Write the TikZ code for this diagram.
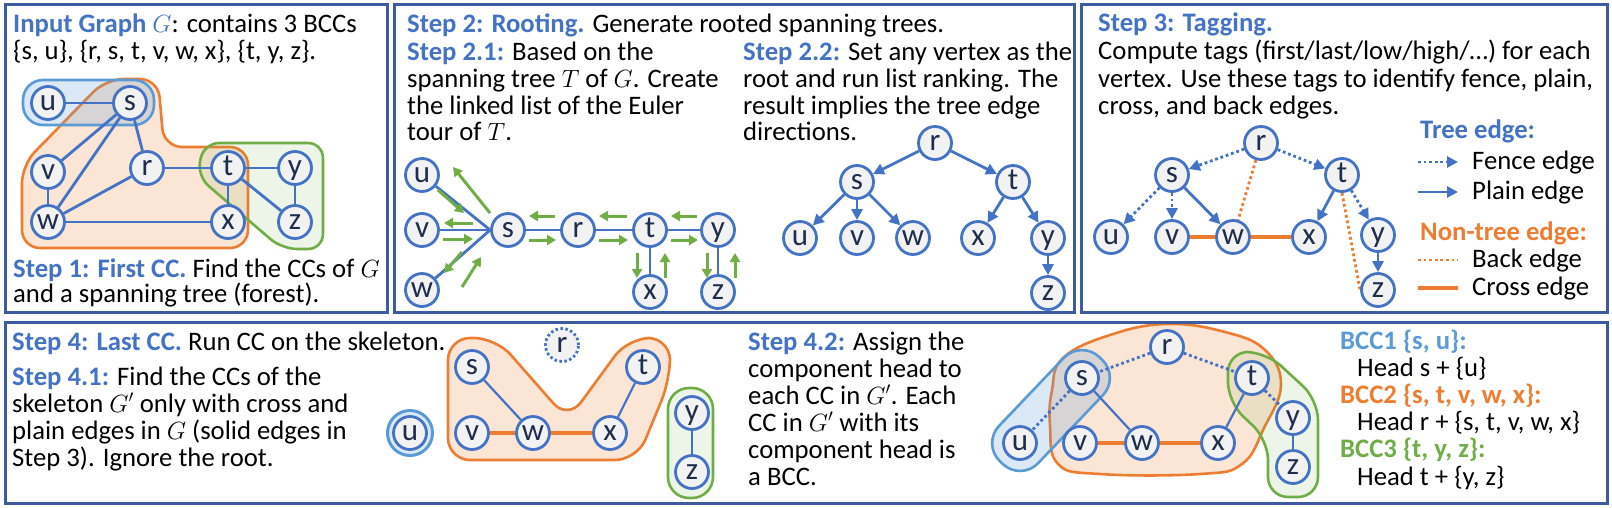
\documentclass[tikz,border=0pt]{standalone}
\usepackage{fontspec}
\setmainfont{Carlito}
\usetikzlibrary{arrows.meta,calc}
\definecolor{hblue}{HTML}{4472C4}
\definecolor{pborder}{HTML}{3D5B9F}
\definecolor{nfill}{HTML}{F2F2F2}
\definecolor{ntext}{HTML}{1F2D4D}
\definecolor{orng}{HTML}{ED7D31}
\definecolor{grn}{HTML}{70AD47}
\definecolor{lblue}{HTML}{5B9BD5}
\pgfdeclarelayer{bg}\pgfdeclarelayer{edges}
\pgfsetlayers{bg,edges,main}
\newcommand\hb[1]{\textcolor{hblue}{\bfseries #1}}
\begin{document}
\begin{tikzpicture}[x=1pt,y=-1pt,
  vnode/.style={circle, draw=hblue, line width=2.8pt, fill=nfill, minimum size=33pt, inner sep=0pt, text=ntext, font=\fontsize{31}{31}\selectfont, text height=14pt, text depth=0pt},
  plainline/.style={draw=hblue, line width=2.8pt},
  thinedge/.style={draw=hblue, line width=2.2pt},
  plainedge/.style={plainline, -{Triangle[length=11pt,width=11pt]}},
  fenceedge/.style={plainedge, dash pattern=on 2.8pt off 2.8pt},
  fenceline/.style={plainline, dash pattern=on 2.8pt off 2.8pt},
  backedge/.style={draw=orng, line width=2.8pt, dash pattern=on 2.8pt off 2.8pt},
  crossedge/.style={draw=orng, line width=3.6pt},
  touredge/.style={draw=grn, line width=3pt, -{Triangle[length=9pt,width=10pt]}},
  txtline/.style={anchor=base west, inner sep=0pt, font=\fontsize{26.7}{27}\selectfont},
  panelbox/.style={draw=pborder, line width=3pt},
  ohull/.style={draw=orng, line width=2.6pt, fill=orng, fill opacity=0.2},
  ghull/.style={draw=grn, line width=2.6pt, fill=grn, fill opacity=0.12},
  bhull/.style={draw=lblue, line width=2.6pt, fill=lblue, fill opacity=0.22},
]
\useasboundingbox (0,0) rectangle (1612,507);
\begin{pgfonlayer}{bg}
\fill[white] (0,0) rectangle (1612,507);
\end{pgfonlayer}

% panels
\draw[panelbox] (5,4) rectangle (387,312);
\draw[panelbox] (394,4) rectangle (1074,312);
\draw[panelbox] (1081,4) rectangle (1607,312);
\draw[panelbox] (5,322) rectangle (1607,503);

% ---------------- Panel 1 ----------------
\node[txtline] (p1a) at (13,32) {\hb{Input Graph $G$}: contains 3 BCCs};
\node[txtline] (p1b) at (13,59) {\{s, u\}, \{r, s, t, v, w, x\}, \{t, y, z\}.};
\node[txtline] (p1c) at (13,277) {\hb{Step 1: First CC.} Find the CCs of $G$};
\node[txtline] (p1d) at (13,302) {and a spanning tree (forest).};

\node[vnode] (a-u) at (48,103) {u};
\node[vnode] (a-s) at (130,103) {s};
\node[vnode] (a-v) at (48,172) {v};
\node[vnode] (a-r) at (147,168) {r};
\node[vnode] (a-t) at (228,168) {t};
\node[vnode] (a-y) at (295,168) {y};
\node[vnode] (a-w) at (48,222) {w};
\node[vnode] (a-x) at (228,222) {x};
\node[vnode] (a-z) at (295,222) {z};
\begin{pgfonlayer}{bg}
\draw[ohull, rounded corners=18pt] (22,248) -- (22,165) -- (106,79) -- (158,79) -- (164,147) -- (248,147) -- (248,248) -- cycle;
\draw[ghull, rounded corners=15pt] (204,143) -- (323,143) -- (323,249) -- (282,249) -- (197,176) -- cycle;
\draw[bhull, rounded corners=20pt] (23,80) rectangle (154,125);
\end{pgfonlayer}
\begin{pgfonlayer}{edges}
\draw[plainline] (a-u) -- (a-s);
\draw[plainline] (a-s) -- (a-v);
\draw[plainline] (a-s) -- (a-w);
\draw[plainline] (a-s) -- (a-r);
\draw[plainline] (a-v) -- (a-w);
\draw[plainline] (a-w) -- (a-r);
\draw[plainline] (a-w) -- (a-x);
\draw[plainline] (a-r) -- (a-t);
\draw[plainline] (a-t) -- (a-y);
\draw[plainline] (a-t) -- (a-x);
\draw[plainline] (a-t) -- (a-z);
\draw[plainline] (a-y) -- (a-z);
\end{pgfonlayer}

% ---------------- Panel 2 ----------------
\node[txtline] (p2a) at (407,32) {\hb{Step 2: Rooting.} Generate rooted spanning trees.};
\node[txtline] (p2b) at (407,60) {\hb{Step 2.1:} Based on the};
\node[txtline] (p2c) at (407,87) {spanning tree $T$ of $G$. Create};
\node[txtline] (p2d) at (407,114) {the linked list of the Euler};
\node[txtline] (p2e) at (407,140) {tour of $T$.};
\node[txtline] (p2f) at (743,60) {\hb{Step 2.2:} Set any vertex as the};
\node[txtline] (p2g) at (743,87) {root and run list ranking. The};
\node[txtline] (p2h) at (743,114) {result implies the tree edge};
\node[txtline] (p2i) at (743,140) {directions.};

% 2.1
\node[vnode] (b-u) at (422,175) {u};
\node[vnode] (b-v) at (422,230) {v};
\node[vnode] (b-w) at (422,290) {w};
\node[vnode] (b-s) at (508,230) {s};
\node[vnode] (b-r) at (578,230) {r};
\node[vnode] (b-t) at (650,230) {t};
\node[vnode] (b-y) at (718,230) {y};
\node[vnode] (b-x) at (650,292) {x};
\node[vnode] (b-z) at (718,292) {z};
\begin{pgfonlayer}{edges}
\draw[plainline] (b-u) -- (b-s.west);
\draw[plainline] (b-v) -- (b-s.west);
\draw[plainline] (b-w) -- (b-s.west);
\draw[plainline] (b-s) -- (b-r);
\draw[plainline] (b-r) -- (b-t);
\draw[plainline] (b-t) -- (b-y);
\draw[plainline] (b-t) -- (b-x);
\draw[plainline] (b-y) -- (b-z);
\end{pgfonlayer}
% Euler tour arrows
\draw[touredge] ($(b-s)+(-18,-17)$) -- ($(b-u)+(31,-8)$);
\draw[touredge] ($(b-u)+(16,15)$) -- ($(b-u)+(42,38)$);
\draw[touredge] ($(b-v)+(51,-7)$) -- ($(b-v)+(22,-7)$);
\draw[touredge] ($(b-v)+(21,9)$) -- ($(b-v)+(51,9)$);
\draw[touredge] ($(b-w)+(40,-38)$) -- ($(b-w)+(22,-17)$);
\draw[touredge] ($(b-w)+(40,-3)$) -- ($(b-w)+(59,-33)$);
\draw[touredge] ($(b-r)+(-23,-14)$) -- ($(b-s)+(21,-14)$);
\draw[touredge] ($(b-s)+(21,10)$) -- ($(b-r)+(-22,10)$);
\draw[touredge] ($(b-t)+(-23,-14)$) -- ($(b-r)+(21,-14)$);
\draw[touredge] ($(b-r)+(21,10)$) -- ($(b-t)+(-22,10)$);
\draw[touredge] ($(b-y)+(-21,-14)$) -- ($(b-t)+(21,-14)$);
\draw[touredge] ($(b-t)+(21,10)$) -- ($(b-y)+(-20,10)$);
\draw[touredge] ($(b-t)+(-13,23)$) -- ($(b-x)+(-13,-14)$);
\draw[touredge] ($(b-x)+(15,-14)$) -- ($(b-t)+(15,23)$);
\draw[touredge] ($(b-y)+(-11,23)$) -- ($(b-z)+(-11,-14)$);
\draw[touredge] ($(b-z)+(17,-14)$) -- ($(b-y)+(17,23)$);

% 2.2
\node[vnode] (c-r) at (935,143) {r};
\node[vnode] (c-s) at (857,182) {s};
\node[vnode] (c-t) at (1013,182) {t};
\node[vnode] (c-u) at (800,238) {u};
\node[vnode] (c-v) at (857,238) {v};
\node[vnode] (c-w) at (913,238) {w};
\node[vnode] (c-x) at (978,238) {x};
\node[vnode] (c-y) at (1048,238) {y};
\node[vnode] (c-z) at (1048,293) {z};
\begin{pgfonlayer}{edges}
\draw[plainedge] (c-r) -- (c-s);
\draw[plainedge] (c-r) -- (c-t);
\draw[plainedge] (c-s) -- (c-u);
\draw[plainedge] (c-s) -- (c-v);
\draw[plainedge] (c-s) -- (c-w);
\draw[plainedge] (c-t) -- (c-x);
\draw[plainedge] (c-t) -- (c-y);
\draw[plainedge] (c-y) -- (c-z);
\end{pgfonlayer}

% ---------------- Panel 3 ----------------
\node[txtline] (p3a) at (1098,31) {\hb{Step 3: Tagging.}};
\node[txtline] (p3b) at (1098,59) {Compute tags (first/last/low/high/…) for each};
\node[txtline] (p3c) at (1098,87) {vertex. Use these tags to identify fence, plain,};
\node[txtline] (p3d) at (1098,114) {cross, and back edges.};

\node[vnode] (d-r) at (1261,143) {r};
\node[vnode] (d-s) at (1172,175) {s};
\node[vnode] (d-t) at (1342,175) {t};
\node[vnode] (d-u) at (1111,237) {u};
\node[vnode] (d-v) at (1172,237) {v};
\node[vnode] (d-w) at (1233,237) {w};
\node[vnode] (d-x) at (1309,237) {x};
\node[vnode] (d-y) at (1378,235) {y};
\node[vnode] (d-z) at (1378,290) {z};
\begin{pgfonlayer}{edges}
\draw[fenceedge] (d-r) -- (d-s);
\draw[fenceedge] (d-r) -- (d-t);
\draw[fenceedge] (d-s) -- (d-u);
\draw[fenceedge] (d-s) -- (d-v);
\draw[fenceedge] (d-t) -- (d-y);
\draw[plainedge] (d-s) -- (d-w);
\draw[plainedge] (d-t) -- (d-x);
\draw[plainedge] (d-y) -- (d-z);
\draw[backedge] (d-r) -- (d-w);
\draw[backedge] (d-t.south) -- (d-z.west);
\draw[crossedge] (d-v) -- (d-w);
\draw[crossedge] (d-w) -- (d-x);
\end{pgfonlayer}

% legend
\node[txtline] (lgt) at (1420,138) {\hb{Tree edge:}};
\node[txtline] (lgf) at (1472,169) {Fence edge};
\node[txtline] (lgp) at (1472,199) {Plain edge};
\node[txtline] (lgn) at (1420,240) {\textcolor{orng}{\bfseries Non-tree edge:}};
\node[txtline] (lgb) at (1472,267) {Back edge};
\node[txtline] (lgc) at (1472,295) {Cross edge};
\coordinate (lf1) at (1418,162); \coordinate (lf2) at (1458,162);
\coordinate (lp1) at (1418,192); \coordinate (lp2) at (1458,192);
\coordinate (lb1) at (1418,260); \coordinate (lb2) at (1458,260);
\coordinate (lc1) at (1418,288); \coordinate (lc2) at (1458,288);
\draw[fenceedge] (lf1) -- (lf2);
\draw[plainedge] (lp1) -- (lp2);
\draw[backedge] (lb1) -- (lb2);
\draw[crossedge] (lc1) -- (lc2);

% ---------------- Panel 4 ----------------
\node[txtline] (p4a) at (12,350) {\hb{Step 4: Last CC.} Run CC on the skeleton.};
\node[txtline] (p4b) at (12,385) {\hb{Step 4.1:} Find the CCs of the};
\node[txtline] (p4c) at (12,412) {skeleton $G'$ only with cross and};
\node[txtline] (p4d) at (12,439) {plain edges in $G$ (solid edges in};
\node[txtline] (p4e) at (12,466) {Step 3). Ignore the root.};

\node[txtline] (p4f) at (748,350) {\hb{Step 4.2:} Assign the};
\node[txtline] (p4g) at (748,377) {component head to};
\node[txtline] (p4h) at (748,404) {each CC in $G'$. Each};
\node[txtline] (p4i) at (748,431) {CC in $G'$ with its};
\node[txtline] (p4j) at (748,458) {component head is};
\node[txtline] (p4k) at (748,485) {a BCC.};

\node[txtline] (p4l) at (1340,349) {\textcolor{lblue}{\bfseries BCC1 \{s, u\}:}};
\node[txtline] (p4m) at (1357,376) {Head s + \{u\}};
\node[txtline] (p4n) at (1340,403) {\textcolor{orng}{\bfseries BCC2 \{s, t, v, w, x\}:}};
\node[txtline] (p4o) at (1357,430) {Head r + \{s, t, v, w, x\}};
\node[txtline] (p4p) at (1340,457) {\textcolor{grn}{\bfseries BCC3 \{t, y, z\}:}};
\node[txtline] (p4q) at (1357,485) {Head t + \{y, z\}};

% 4.1
\node[vnode] (e-u) at (410,433) {u};
\node[vnode, dash pattern=on 2.5pt off 2.5pt] (e-r) at (562,345) {r};
\node[vnode] (e-s) at (472,367) {s};
\node[vnode] (e-t) at (643,367) {t};
\node[vnode] (e-v) at (472,433) {v};
\node[vnode] (e-w) at (533,433) {w};
\node[vnode] (e-x) at (610,433) {x};
\node[vnode] (e-y) at (692,413) {y};
\node[vnode] (e-z) at (692,472) {z};
\begin{pgfonlayer}{bg}
\draw[bhull, line width=3pt] (410,433) circle[radius=22.5pt];
\draw[ohull, rounded corners=22pt] (448,338) -- (496,338) -- (568,420) -- (628,338) -- (670,338) -- (670,380) -- (637,460) -- (448,460) -- cycle;
\draw[ghull, rounded corners=21pt] (668,388) rectangle (713,498);
\end{pgfonlayer}
\begin{pgfonlayer}{edges}
\draw[thinedge] (e-s) -- (e-w);
\draw[thinedge] (e-t) -- (e-x);
\draw[thinedge] (e-y) -- (e-z);
\draw[crossedge] (e-v) -- (e-w);
\draw[crossedge] (e-w) -- (e-x);
\end{pgfonlayer}

% 4.2
\node[vnode] (f-r) at (1167,347) {r};
\node[vnode] (f-s) at (1082,378) {s};
\node[vnode] (f-t) at (1252,378) {t};
\node[vnode] (f-u) at (1020,443) {u};
\node[vnode] (f-v) at (1080,443) {v};
\node[vnode] (f-w) at (1142,443) {w};
\node[vnode] (f-x) at (1218,443) {x};
\node[vnode] (f-y) at (1293,418) {y};
\node[vnode] (f-z) at (1293,467) {z};
\begin{pgfonlayer}{bg}
\draw[ohull] plot[smooth cycle, tension=0.7] coordinates {(1063,358) (1110,335) (1167,324) (1225,332) (1265,350) (1281,385) (1264,428) (1242,464) (1200,474) (1100,474) (1058,464) (1050,425) (1052,390)};
\draw[ghull, rounded corners=20pt] (1228,352) -- (1266,352) -- (1318,400) -- (1318,497) -- (1268,497) -- (1268,440) -- (1228,402) -- cycle;
\node[bhull, rounded corners=25pt, minimum width=144pt, minimum height=54pt, rotate=46.4, inner sep=0pt] (f-bh) at ($(f-u)!0.5!(f-s)$) {};
\end{pgfonlayer}
\begin{pgfonlayer}{edges}
\draw[fenceline] (f-r) -- (f-s);
\draw[fenceline] (f-r) -- (f-t);
\draw[fenceline] (f-s) -- (f-u);
\draw[fenceline] (f-t) -- (f-y);
\draw[thinedge] (f-s) -- (f-w);
\draw[thinedge] (f-t) -- (f-x);
\draw[thinedge] (f-y) -- (f-z);
\draw[crossedge] (f-v) -- (f-w);
\draw[crossedge] (f-w) -- (f-x);
\end{pgfonlayer}
\end{tikzpicture}
\end{document}
